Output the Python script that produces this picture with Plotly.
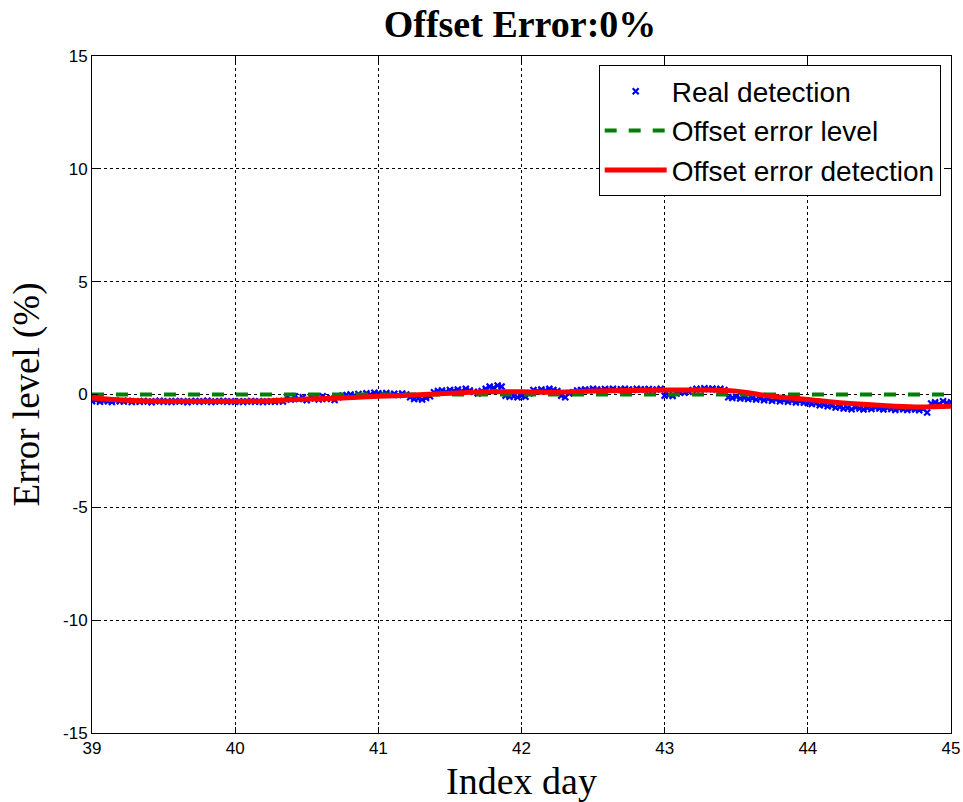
import numpy as np
import plotly.graph_objects as go

# ---- data ----
pts_per_day = 36
real_day39 = [-0.30,-0.25,-0.32,-0.28,-0.30,-0.33,-0.27,-0.30,-0.31,-0.28,-0.33,-0.30,
              -0.32,-0.29,-0.31,-0.34,-0.30,-0.28,-0.32,-0.30,-0.33,-0.29,-0.31,-0.30,
              -0.34,-0.30,-0.29,-0.32,-0.30,-0.28,-0.33,-0.31,-0.30,-0.29,-0.32,-0.30]
real_day40 = [-0.32,-0.30,-0.33,-0.31,-0.29,-0.32,-0.30,-0.33,-0.31,-0.30,-0.32,-0.29,
              -0.31,-0.10,-0.22,-0.08,-0.20,-0.12,-0.25,-0.10,-0.18,-0.22,-0.08,-0.20,
              -0.15,-0.24,-0.12,-0.05,-0.02,0.00,-0.05,0.02,-0.03,0.05,0.00,0.08]
real_day41 = [0.05,0.02,0.06,0.00,0.03,-0.02,0.04,0.00,
              -0.12,-0.20,-0.18,-0.22,-0.15,-0.08,
              0.10,0.15,0.18,0.12,0.20,0.16,0.22,0.15,0.25,0.18,0.12,0.05,0.15,
              0.25,0.35,0.30,0.40,0.35,
              -0.05,-0.10,-0.08,-0.12]
real_day42 = [-0.05,-0.10,0.05,0.20,0.15,0.22,0.18,0.25,0.20,0.15,
              -0.05,-0.12,
              0.05,0.10,0.18,0.20,0.22,0.20,0.25,0.22,0.20,0.24,0.22,0.25,
              0.20,0.23,0.25,0.22,0.20,0.25,0.23,0.22,0.24,0.20,0.22,0.25]
real_day43 = [-0.05,-0.02,-0.06,0.05,0.10,0.08,0.12,0.20,0.25,0.22,
              0.28,0.24,0.26,0.22,0.25,0.20,-0.12,-0.15,-0.10,-0.18,
              -0.14,-0.20,-0.16,-0.22,-0.18,-0.25,-0.20,-0.28,-0.22,-0.30,
              -0.25,-0.32,-0.28,-0.35,-0.30,-0.36]
real_day44 = [-0.38,-0.42,-0.40,-0.48,-0.45,-0.52,-0.50,-0.58,-0.55,-0.62,
              -0.60,-0.65,-0.58,-0.62,-0.66,-0.60,-0.64,-0.58,-0.62,-0.66,
              -0.60,-0.64,-0.68,-0.62,-0.65,-0.68,-0.63,-0.66,-0.70,-0.64,
              -0.80,-0.40,-0.35,-0.42,-0.30,-0.38]
real_day45 = [-0.35]

red_x = [39.0,39.25,39.5,39.75,40.0,40.25,40.5,40.75,41.0,41.25,41.5,41.75,42.0,
         42.25,42.5,42.75,43.0,43.25,43.5,43.75,44.0,44.25,44.5,44.75,45.0]
red_y = [-0.15,-0.25,-0.30,-0.30,-0.30,-0.28,-0.20,-0.15,-0.08,-0.02,0.05,0.12,0.12,
         0.10,0.15,0.18,0.20,0.20,0.15,-0.08,-0.22,-0.38,-0.48,-0.55,-0.52]

level_x = [39, 45]
level_y = [0, 0]

x_ticks = [39, 40, 41, 42, 43, 44, 45]
x_tick_labels = ["39", "40", "41", "42", "43", "44", "45"]
y_ticks = [-15, -10, -5, 0, 5, 10, 15]
y_tick_labels = ["-15", "-10", "-5", "0", "5", "10", "15"]

real_y = real_day39 + real_day40 + real_day41 + real_day42 + real_day43 + real_day44 + real_day45
real_x = 39 + np.arange(len(real_y)) / pts_per_day

fig = go.Figure()
fig.add_trace(go.Scatter(x=real_x, y=real_y, mode="markers", name="Real detection",
                         marker=dict(symbol="x-thin", size=6, color="#0000ff",
                                     line=dict(width=2.2, color="#0000ff"))))
fig.add_trace(go.Scatter(x=level_x, y=level_y, mode="lines", name="Offset error level",
                         line=dict(color="#008000", width=4, dash="dash")))
fig.add_trace(go.Scatter(x=red_x, y=red_y, mode="lines", name="Offset error detection",
                         line=dict(color="#ff0000", width=5, shape="spline")))

axis_common = dict(showline=True, linecolor="black", linewidth=1, mirror="ticks",
                   ticks="inside", ticklen=6, tickcolor="black",
                   showgrid=True, gridcolor="black", griddash="dot", gridwidth=1,
                   zeroline=False, automargin=False,
                   tickfont=dict(family="Liberation Sans, Arial", size=17, color="black"))

fig.update_xaxes(range=[39, 45], tickvals=x_ticks, ticktext=x_tick_labels, **axis_common,
                 title=dict(text="Index day", standoff=10,
                            font=dict(family="Liberation Serif, Times New Roman", size=38, color="black")))
fig.update_yaxes(range=[-15, 15], tickvals=y_ticks, ticktext=y_tick_labels, **axis_common,
                 title=dict(text="Error level (%)", standoff=12,
                            font=dict(family="Liberation Serif, Times New Roman", size=37, color="black")))

fig.update_layout(
    width=963, height=802,
    margin=dict(l=92, r=12, t=56, b=69),
    paper_bgcolor="white", plot_bgcolor="white",
    title=dict(text="<b>Offset Error:0%</b>", x=0.54, xanchor="center", y=0.971, yanchor="middle",
               font=dict(family="Liberation Serif, Times New Roman", size=38, color="black")),
    legend=dict(x=0.988, xanchor="right", y=0.986, yanchor="top",
                bordercolor="black", borderwidth=1, bgcolor="white",
                font=dict(family="Liberation Sans, Arial", size=28, color="black"),
                itemwidth=62, tracegroupgap=0),
    showlegend=True,
)

fig.write_html("out.html")
